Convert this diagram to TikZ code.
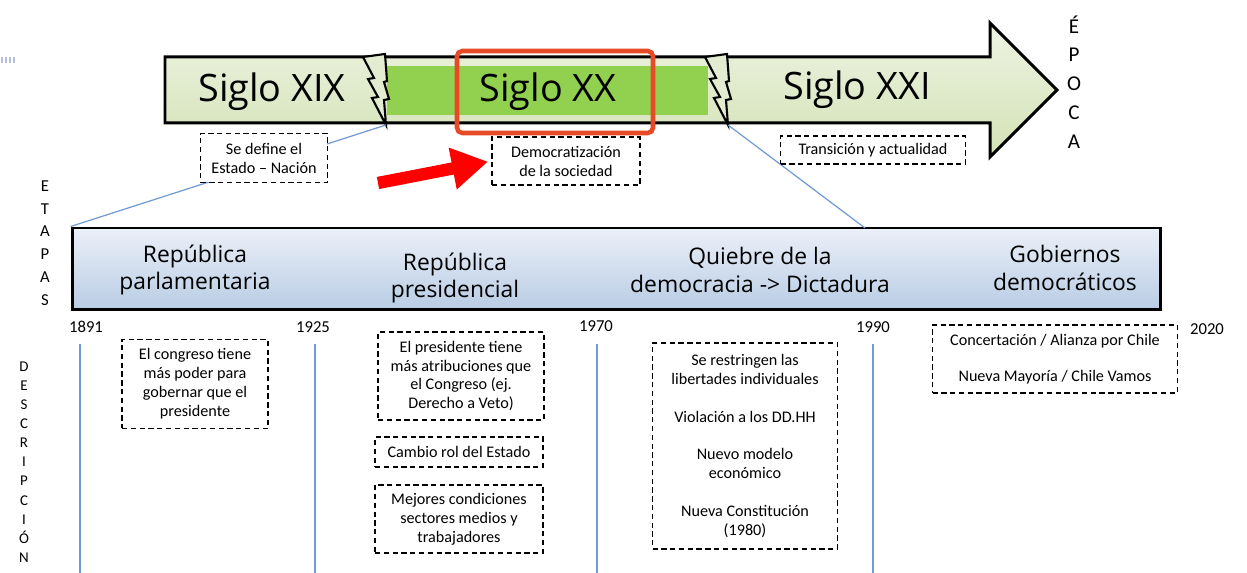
\documentclass[tikz,border=0pt]{standalone}
\usepackage{fontspec}
\setmainfont{Carlito}
\newfontfamily\comicfont{Open Sans}
\usetikzlibrary{positioning,shapes,arrows.meta}

\definecolor{epocatop}{HTML}{EEF3E3}
\definecolor{epocabot}{HTML}{D3E2B5}
\definecolor{siglogreen}{HTML}{92D050}
\definecolor{focusred}{HTML}{E64A27}
\definecolor{zoomblue}{HTML}{6F9BD6}
\definecolor{etapatop}{HTML}{EBF0F8}
\definecolor{etapabot}{HTML}{B8CCE4}
\definecolor{markgray}{HTML}{B4BCE0}

\tikzset{
  desc/.style={draw, dash pattern=on 3pt off 2pt, line width=0.6pt, fill=white, align=center, font=\fontsize{9.2}{10.8}\selectfont, inner sep=2pt},
  siglo/.style={font=\comicfont\fontsize{21.5}{24}\selectfont},
  etapa/.style={font=\comicfont\fontsize{13}{15.5}\selectfont, align=center},
  year/.style={font=\fontsize{9.5}{11}\selectfont},
  zoomline/.style={zoomblue, line width=0.7pt},
  yearline/.style={zoomblue, line width=0.8pt},
  vlabel/.style={align=center, font=\fontsize{9.5}{13}\selectfont}
}

\begin{document}
\begin{tikzpicture}[x=0.02cm, y=-0.02cm]
  \useasboundingbox (0,0) rectangle (1247,573);
  \foreach \x in {1,5,9,13} \fill[markgray] (\x,57) rectangle ++(2,6);

  % flecha de las epocas
  \shadedraw[top color=epocatop, bottom color=epocabot, line width=1.7pt, line join=miter]
    (165,57) -- (990,57) -- (990,23) -- (1057,90) -- (990,157) -- (990,123) -- (165,123) -- cycle;
  \fill[siglogreen] (387,66) rectangle (708,115);

  % rayos
  \foreach \bx/\bn in {363/b1,705/b2}{
    \begin{scope}[shift={(\bx,54)}]
      \filldraw[fill=epocatop!60!epocabot, line width=1.2pt, line join=miter]
        (0,3) -- (11,24) -- (5,25) -- (15,43) -- (9,44) -- (23,71) -- (21,46) -- (26,45)
        -- (21,28) -- (24,27) -- (22,0) -- cycle;
      \coordinate (\bn) at (23,71);
    \end{scope}
  }

  \node[siglo] (s19) at (272,92) {Siglo XIX};
  \node[siglo] (s20) at (548,92) {Siglo XX};
  \node[siglo] (s21) at (857,90) {Siglo XXI};
  \draw[focusred, line width=2.6pt, rounded corners=3pt] (457,51) rectangle (653,133);

  % etapas
  \node[draw, line width=1.7pt, top color=etapatop, bottom color=etapabot, minimum width=21.78cm, minimum height=1.64cm, inner sep=0pt] (etapas) at (616.5,269) {};
  \coordinate (e2) at (865,228);
  \draw[zoomline] (b1) -- (etapas.north west);
  \draw[zoomline] (b2) -- (e2);

  \node[desc, minimum width=2.54cm, minimum height=0.98cm] (estado) at (264,158) {Se define el\\Estado – Nación};
  \node[desc, minimum width=2.96cm, minimum height=0.96cm] (demo) at (566,161) {Democratización\\de la sociedad};
  \node[desc, minimum width=3.7cm, minimum height=0.56cm] (trans) at (873,150) {Transición y actualidad};

  \coordinate (tail) at (378,183);
  \draw[red, line width=7pt, -{Triangle[length=0.72cm, width=0.8cm]}, shorten >=2pt] (tail) -- (demo.west);

  \node[etapa] (parl) at (195,270) {República\\parlamentaria};
  \node[etapa] (pres) at (455,278) {República\\presidencial};
  \node[etapa] (quiebre) at (760,270) {Quiebre de la\\democracia -> Dictadura};
  \node[etapa] (gob) at (1065,268) {Gobiernos\\democráticos};

  % años
  \node[year] (y1891) at (86,327) {1891};
  \node[year] (y1925) at (313,327) {1925};
  \node[year] (y1970) at (596,326) {1970};
  \node[year] (y1990) at (873,327) {1990};
  \node[year] (y2020) at (1207,329) {2020};
  \foreach \x in {80,315,597,873} \draw[yearline] (\x,344) -- (\x,573);

  % descripcion
  \node[desc, minimum width=2.92cm, minimum height=1.78cm] (congreso) at (195,384) {El congreso tiene\\más poder para\\gobernar que el\\presidente};
  \node[desc, minimum width=3.32cm, minimum height=1.76cm] (presi) at (461,376) {El presidente tiene\\más atribuciones que\\el Congreso (ej.\\Derecho a Veto)};
  \node[desc, minimum width=3.36cm, minimum height=0.6cm] (rol) at (459,452) {Cambio rol del Estado};
  \node[desc, minimum width=3.36cm, minimum height=1.36cm] (mejores) at (459,519) {Mejores condiciones\\sectores medios y\\trabajadores};
  \node[desc, minimum width=3.7cm, minimum height=4.12cm] (dictadura) at (745,446) {Se restringen las\\libertades individuales\\[10.8pt]Violación a los DD.HH\\[10.8pt]Nuevo modelo\\económico\\[10.8pt]Nueva Constitución\\(1980)};
  \node[desc, minimum width=4.9cm, minimum height=1.36cm] (concert) at (1055,359) {Concertación / Alianza por Chile\\[10pt]Nueva Mayoría / Chile Vamos};

  \node[vlabel] (lbletapas) at (45,243) {E\\T\\A\\P\\A\\S};
  \node[vlabel, font=\fontsize{12}{16.4}\selectfont] (lblepoca) at (1074,82) {É\\P\\O\\C\\A};
  \node[vlabel, font=\fontsize{8.5}{10.9}\selectfont] (lbldesc) at (24,462) {D\\E\\S\\C\\R\\I\\P\\C\\I\\Ó\\N};
\end{tikzpicture}
\end{document}
